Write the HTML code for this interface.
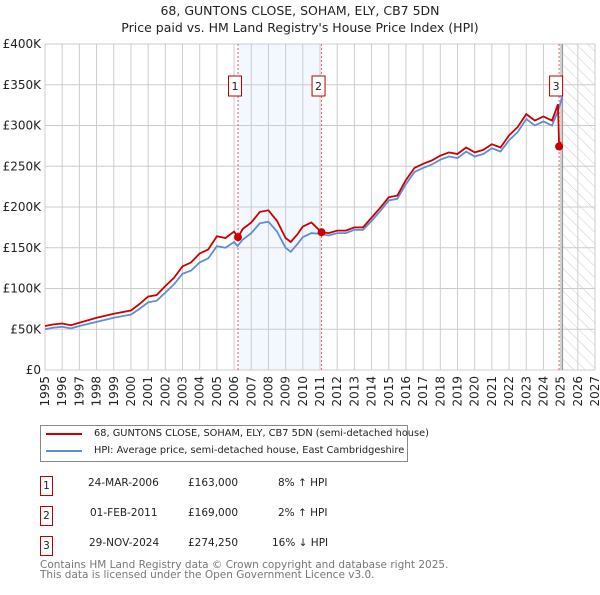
<!DOCTYPE html>
<html><head><meta charset="utf-8"><style>
body{margin:0;background:#fff;font-family:"Liberation Sans","DejaVu Sans",sans-serif;}
svg text{font-family:"DejaVu Sans","Liberation Sans",sans-serif;}
</style></head><body>
<svg id="c" width="600" height="590" xmlns="http://www.w3.org/2000/svg">
<defs><pattern id="hatch" width="8" height="8" patternUnits="userSpaceOnUse" patternTransform="rotate(-45)"><line x1="0" y1="0" x2="0" y2="8" stroke="#ccc" stroke-width="1"/></pattern></defs>
<text x="300" y="15" text-anchor="middle" font-size="12.5" fill="#222">68, GUNTONS CLOSE, SOHAM, ELY, CB7 5DN</text>
<text x="300" y="32" text-anchor="middle" font-size="12.5" fill="#222">Price paid vs. HM Land Registry's House Price Index (HPI)</text>
<g id="grid"></g><g id="marks"></g>
</svg>
<script>
const hpiYears=[1995,1995.5,1996,1996.5,1997,1998,1999,2000,2000.5,2001,2001.5,2002,2002.5,2003,2003.5,2004,2004.5,2005,2005.5,2006,2006.2,2006.5,2007,2007.5,2008,2008.5,2009,2009.3,2009.7,2010,2010.5,2011,2011.5,2012,2012.5,2013,2013.5,2014,2014.5,2015,2015.5,2016,2016.5,2017,2017.5,2018,2018.5,2019,2019.5,2020,2020.5,2021,2021.5,2022,2022.5,2023,2023.5,2024,2024.5,2024.85,2025.1];
const hpiValues=[50,52,53,51,54,59,64,68,75,83,85,95,105,118,122,132,137,152,150,157,152,160,168,180,182,170,150,145,155,163,168,167,165,168,168,172,172,183,195,208,210,228,243,248,252,258,262,260,268,262,265,272,268,282,292,308,300,305,300,318,335];
const priceYears=[1995,1995.5,1996,1996.5,1997,1998,1999,2000,2000.5,2001,2001.5,2002,2002.5,2003,2003.5,2004,2004.5,2005,2005.5,2006,2006.23,2006.5,2007,2007.5,2008,2008.5,2009,2009.3,2009.7,2010,2010.5,2011.09,2011.5,2012,2012.5,2013,2013.5,2014,2014.5,2015,2015.5,2016,2016.5,2017,2017.5,2018,2018.5,2019,2019.5,2020,2020.5,2021,2021.5,2022,2022.5,2023,2023.5,2024,2024.5,2024.85,2024.91,2025.0];
const priceValues=[54,56,57,55,58,64,69,73,81,90,92,103,113,127,132,143,148,164,162,170,163,173,181,194,196,183,162,157,167,176,181,169,168,171,171,175,175,187,199,212,214,233,248,253,257,263,267,265,273,267,270,277,273,288,298,314,306,311,306,326,274.25,280];
const salesYears=[2006.23,2011.09,2024.91];
const salesValues=[163,169,274.25];
const saleLabels=["1","2","3"];
const yTicks=[0,50,100,150,200,250,300,350,400];
const yTickLabels=["£0","£50K","£100K","£150K","£200K","£250K","£300K","£350K","£400K"];
const xTicks=[1995,1996,1997,1998,1999,2000,2001,2002,2003,2004,2005,2006,2007,2008,2009,2010,2011,2012,2013,2014,2015,2016,2017,2018,2019,2020,2021,2022,2023,2024,2025,2026,2027];
const X0=45,X1=595,Y0=370,Y1=44;
const xs=v=>X0+(v-1995)/(2027-1995)*(X1-X0);
const ys=v=>Y0-(v/400)*(Y0-Y1);
const NS="http://www.w3.org/2000/svg";
function mk(tag,attrs,parent,name){const e=document.createElementNS(NS,tag);for(const k in attrs)e.setAttribute(k,attrs[k]);


parent.appendChild(e);return e;}
const g=document.getElementById('grid'),m=document.getElementById('marks');
mk('rect',{x:xs(salesYears[0]),y:Y1,width:xs(salesYears[1])-xs(salesYears[0]),height:Y0-Y1,fill:'#eef3fd',opacity:0.7},g,'highlight-band');
mk('rect',{x:xs(2025.1),y:Y1,width:X1-xs(2025.1),height:Y0-Y1,fill:'url(#hatch)'},g,'forecast-hatch');
yTicks.forEach((t,i)=>{mk('line',{x1:X0,x2:X1,y1:ys(t),y2:ys(t),stroke:'#ccc'},g,'y-gridline');
const tx=mk('text',{x:X0-4,y:ys(t)+4,'text-anchor':'end','font-size':12,fill:'#222'},g,'y-tick-label');tx.textContent=yTickLabels[i];});
xTicks.forEach(t=>{mk('line',{x1:xs(t),x2:xs(t),y1:Y1,y2:Y0,stroke:'#ccc'},g,'x-gridline');
const tx=mk('text',{x:xs(t)+4,y:Y0+6,'text-anchor':'end','font-size':12,fill:'#222',transform:`rotate(-90 ${xs(t)+4} ${Y0+6})`},g,'x-tick-label');tx.textContent=t;});
mk('line',{x1:xs(2025.1),x2:xs(2025.1),y1:Y1,y2:Y0,stroke:'#999','stroke-width':1.5},g,'today-line');
salesYears.forEach(s=>mk('line',{x1:xs(s),x2:xs(s),y1:Y1,y2:Y0,stroke:'#e06060','stroke-dasharray':'2,2'},g,'sale-vline'));
const pts=(a,b)=>a.map((x,i)=>xs(x).toFixed(1)+','+ys(b[i]).toFixed(1)).join(' ');
mk('polyline',{points:pts(hpiYears,hpiValues),fill:'none',stroke:'#5b8fd4','stroke-width':1.8},m,'hpi-line');
mk('polyline',{points:pts(priceYears,priceValues),fill:'none',stroke:'#cc0000','stroke-width':1.8},m,'price-line');
salesYears.forEach((s,i)=>{mk('circle',{cx:xs(s),cy:ys(salesValues[i]),r:4,fill:'#cc0000'},m,'sale-point');
const bx=xs(s)-3.5;mk('rect',{x:bx-6,y:76,width:13,height:20,fill:'#fff',stroke:'#b00'},m,'sale-marker-box');
const t=mk('text',{x:bx+0.5,y:90,'text-anchor':'middle','font-size':11,fill:'#222'},m,'sale-marker-label');t.textContent=saleLabels[i];});
</script>
<div style="position:absolute;left:40px;top:425px;width:366px;height:35px;border:1px solid #888;font-size:9.8px;color:#222;font-family:'DejaVu Sans',sans-serif;white-space:nowrap">
<div style="position:absolute;left:5px;top:7px;width:36px;height:2px;background:#cc0000"></div>
<div style="position:absolute;left:53px;top:2px">68, GUNTONS CLOSE, SOHAM, ELY, CB7 5DN (semi-detached house)</div>
<div style="position:absolute;left:5px;top:24px;width:36px;height:2px;background:#5b8fd4"></div>
<div style="position:absolute;left:53px;top:19px">HPI: Average price, semi-detached house, East Cambridgeshire</div>
</div>
<div style="font-family:'DejaVu Sans',sans-serif;font-size:10.5px;color:#222">
<div style="position:absolute;left:40px;top:476px;width:11px;height:18px;border:1px solid #b00;text-align:center;line-height:18px">1</div>
<div style="position:absolute;left:88px;top:477px">24-MAR-2006</div>
<div style="position:absolute;left:188px;top:477px">£163,000</div>
<div style="position:absolute;left:278px;top:477px">8% ↑ HPI</div>
<div style="position:absolute;left:40px;top:506px;width:11px;height:18px;border:1px solid #b00;text-align:center;line-height:18px">2</div>
<div style="position:absolute;left:90px;top:507px">01-FEB-2011</div>
<div style="position:absolute;left:188px;top:507px">£169,000</div>
<div style="position:absolute;left:278px;top:507px">2% ↑ HPI</div>
<div style="position:absolute;left:40px;top:536px;width:11px;height:18px;border:1px solid #b00;text-align:center;line-height:18px">3</div>
<div style="position:absolute;left:89px;top:537px">29-NOV-2024</div>
<div style="position:absolute;left:188px;top:537px">£274,250</div>
<div style="position:absolute;left:272px;top:537px">16% ↓ HPI</div>
</div>
<div style="position:absolute;left:40px;top:560px;font-family:'DejaVu Sans',sans-serif;font-size:10.5px;color:#777;line-height:10px;white-space:nowrap">Contains HM Land Registry data © Crown copyright and database right 2025.<br>This data is licensed under the Open Government Licence v3.0.</div>
</body></html>
